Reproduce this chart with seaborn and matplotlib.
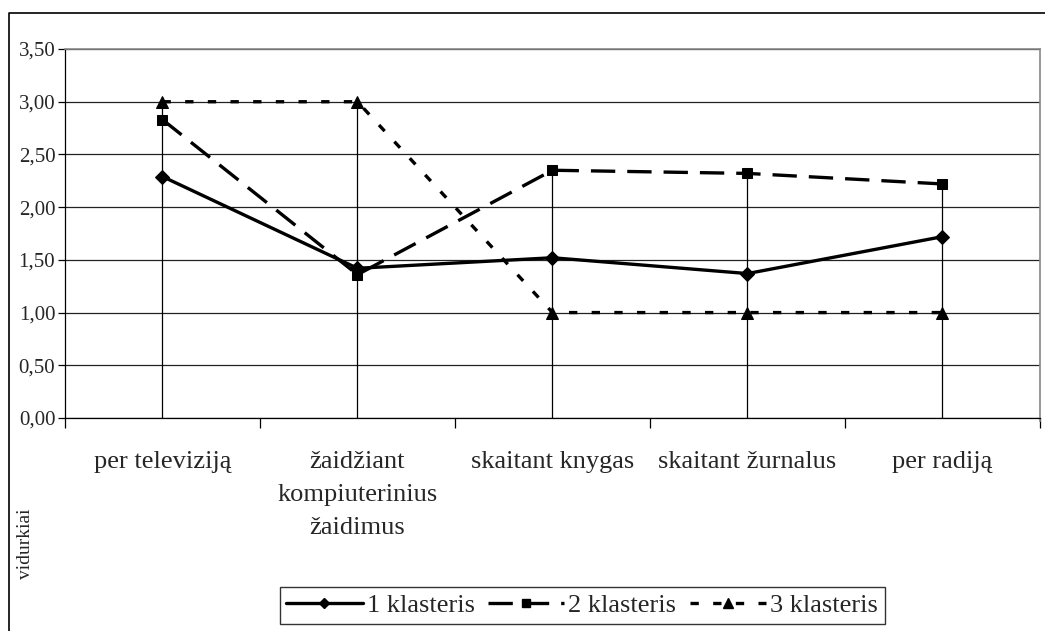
import matplotlib.pyplot as plt
from matplotlib.lines import Line2D
import numpy as np
import pandas as pd
import seaborn as sns

categories = [
    "per televiziją",
    "žaidžiant\nkompiuterinius\nžaidimus",
    "skaitant knygas",
    "skaitant žurnalus",
    "per radiją",
]
series_names = ["1 klasteris", "2 klasteris", "3 klasteris"]
klasteris_1 = [2.29, 1.42, 1.52, 1.37, 1.72]
klasteris_2 = [2.83, 1.36, 2.35, 2.32, 2.22]
klasteris_3 = [3.00, 3.00, 1.00, 1.00, 1.00]
y_ticks = [0.0, 0.5, 1.0, 1.5, 2.0, 2.5, 3.0, 3.5]

sns.set_theme(style="white")
plt.rcParams["font.family"] = ["Liberation Serif", "DejaVu Serif"]

positions = np.arange(len(categories))
df = pd.DataFrame({
    "pos": np.tile(positions, 3),
    "value": klasteris_1 + klasteris_2 + klasteris_3,
    "series": np.repeat(series_names, len(categories)),
})

LW = 2.4
styles = {
    "1 klasteris": dict(ls="-", marker="D", ms=7),
    "2 klasteris": dict(ls=(0, (7.3, 3.6)), marker="s", ms=7.5),
    "3 klasteris": dict(ls=(0, (2.5, 4.3)), marker="^", ms=8.5),
}

fig = plt.figure(figsize=(10.45, 6.31), dpi=100)
ax = fig.add_axes([0.0622, 0.3376, 0.9330, 0.5847])

# drop lines down from the highest series value
tops = np.max(np.vstack([klasteris_1, klasteris_2, klasteris_3]), axis=0)
ax.vlines(positions, 0, tops, color="black", lw=0.9, zorder=1)

for name in series_names:
    sub = df[df["series"] == name]
    st = styles[name]
    sns.lineplot(data=sub, x="pos", y="value", ax=ax, color="black",
                 lw=LW, linestyle=st["ls"], marker=st["marker"],
                 markersize=st["ms"], markeredgecolor="black", zorder=3,
                 legend=False)

ax.set_xlim(-0.5, len(categories) - 0.5)
ax.set_ylim(0, 3.5)
ax.set_yticks(y_ticks)
ax.set_yticklabels([f"{v:.2f}".replace(".", ",") for v in y_ticks], fontsize=15)
ax.grid(axis="y", color="#222222", lw=0.9)
ax.set_axisbelow(True)

ax.set_xticks(positions)
ax.set_xticklabels(categories, fontsize=19, linespacing=1.65, va="top")
ax.set_xticks(np.arange(-0.5, len(categories)), minor=True)
ax.tick_params(axis="x", which="major", length=0, pad=24)
ax.tick_params(axis="x", which="minor", bottom=True, length=7, width=0.9,
               color="black", direction="out")
ax.tick_params(axis="y", left=True, length=5, width=0.9, color="black",
               direction="out", pad=2)
ax.set_xlabel("")
ax.set_ylabel("")

for side in ["left", "bottom"]:
    ax.spines[side].set_color("black")
    ax.spines[side].set_linewidth(0.9)
for side in ["top", "right"]:
    ax.spines[side].set_color("#888888")
    ax.spines[side].set_linewidth(1.2)
ax.spines["right"].set_bounds(-0.03, 3.5)

fig.text(0.024, 0.139, "vidurkiai", rotation=90, fontsize=14, va="center", ha="center")

# outer chart frame (left and top edges only are inside the picture)
fig.add_artist(Line2D([0.0086, 0.0086, 1.0], [0.0, 0.9794, 0.9794],
                      transform=fig.transFigure, color="black", lw=1.2))

handles = [Line2D([], [], color="black", lw=LW, linestyle=styles[n]["ls"],
                  marker=styles[n]["marker"], markersize=styles[n]["ms"] - 1.5)
           for n in series_names]
leg = fig.legend(handles, series_names, loc="center", bbox_to_anchor=(0.557, 0.040),
                 ncol=3, fontsize=19, frameon=True, fancybox=False, handlelength=2.9,
                 columnspacing=0.5, handletextpad=0.15, borderpad=0.25, borderaxespad=0)
leg.get_frame().set_edgecolor("black")
leg.get_frame().set_linewidth(1.0)

fig.savefig("out.png", dpi=100)
